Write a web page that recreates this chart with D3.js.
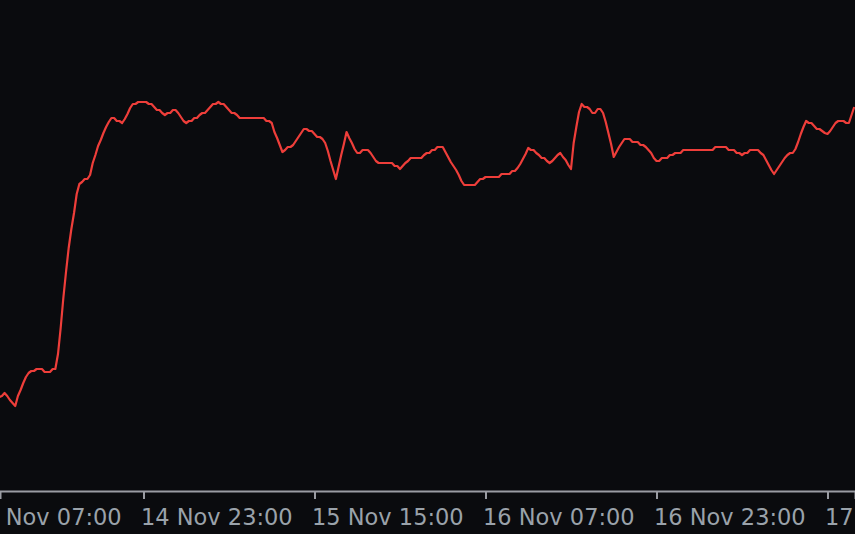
<!DOCTYPE html>
<html>
<head>
<meta charset="utf-8">
<script src="https://cdn.jsdelivr.net/npm/d3@7"></script>
<style>
  html, body { margin: 0; padding: 0; background: #0a0b0e; }
  svg { display: block; }
</style>
</head>
<body>
<svg id="chart" width="855" height="534"></svg>
<script>
// ---- Data (15-minute closes, 14 Nov 09:30 -> 17 Nov 17:30) ----
const seriesStart = "2023-11-14T09:30:00Z";
const stepMinutes = 15;
const values = [
  103,104,107,104,100,97,94,104,110,117,123,127,129,129,131,131,131,128,128,128,
  131,131,146,172,202,228,252,271,287,306,316,318,321,321,325,337,345,354,360,367,
  373,378,382,382,379,379,377,381,386,392,396,396,398,398,
  398,398,396,396,393,390,390,387,385,387,387,390,390,387,383,379,377,379,379,382,
  382,385,387,387,390,393,396,396,398,396,396,393,390,387,387,385,
  382,382,382,382,382,382,382,382,382,382,
  379,379,377,368,362,355,348,350,353,353,355,359,363,367,371,371,369,369,366,363,
  363,361,357,349,339,330,321,333,345,356,368,362,357,351,347,347,350,350,350,347,
  343,339,337,337,337,337,337,337,334,334,331,334,337,339,342,342,342,342,342,345,
  347,347,350,350,353,353,353,348,343,338,334,330,325,319,315,315,315,315,315,318,
  321,321,323,323,323,323,323,323,326,326,326,326,329,329,332,336,341,346,352,350,
  350,347,345,342,342,339,337,339,342,345,347,343,340,335,331,357,373,388,396,393,
  393,391,387,387,391,391,387,378,367,356,343,348,353,357,361,361,361,358,358,358,
  355,355,353,350,347,342,339,339,342,342,342,345,345,347,347,347,
  350,350,350,350,350,350,350,350,350,350,350,350,
  353,353,353,353,353,350,350,350,347,347,345,347,347,350,350,350,350,
  347,345,340,335,330,326,330,334,338,342,345,347,347,351,358,366,373,379,377,377,
  374,371,371,369,367,366,369,373,377,379,379,379,377,377,385,393
];
const tickLabels = ["14 Nov 07:00","14 Nov 23:00","15 Nov 15:00","16 Nov 07:00","16 Nov 23:00","17 Nov 15:00"];
const tickTimes = ["2023-11-14T07:00:00Z","2023-11-14T23:00:00Z","2023-11-15T15:00:00Z","2023-11-16T07:00:00Z","2023-11-16T23:00:00Z","2023-11-17T15:00:00Z"];
const viewStart = "2023-11-14T09:34:25Z";
const viewEnd = "2023-11-17T17:34:25Z";

// ---- Build ----
const W = 855, H = 534, axisY = 491;
const start = new Date(seriesStart);
const data = values.map((v, i) => ({ t: d3.utcMinute.offset(start, i * stepMinutes), v }));

const svg = d3.select("#chart");
svg.append("rect").attr("width", W).attr("height", H).attr("fill", "#0a0b0e");

const x = d3.scaleUtc().domain([new Date(viewStart), new Date(viewEnd)]).range([0, W]);
const y = d3.scaleLinear().domain([0, 500]).range([500, 0]);

const line = d3.line().x(d => x(d.t)).y(d => y(d.v));

svg.append("path")
  .datum(data)
  .attr("d", line)
  .attr("fill", "none")
  .attr("stroke", "#ee3e3a")
  .attr("stroke-width", 2.2)
  .attr("stroke-linejoin", "round");

const labelMap = new Map(tickTimes.map((t, i) => [+new Date(t), tickLabels[i]]));
const axis = d3.axisBottom(x)
  .tickValues(tickTimes.map(t => new Date(t)))
  .tickSizeOuter(0)
  .tickSize(8)
  .tickFormat(d => labelMap.get(+d));

const g = svg.append("g").attr("transform", `translate(0,${axisY})`).call(axis);
g.select(".domain").attr("stroke", "#9a9ca3").attr("stroke-width", 2);
g.selectAll(".tick line").attr("stroke", "#9a9ca3").attr("stroke-width", 2);
g.selectAll(".tick text")
  .attr("text-anchor", "start")
  .attr("x", -3)
  .attr("y", 34)
  .attr("dy", 0)
  .attr("fill", "#9aa2aa")
  .style("font-family", "'DejaVu Sans', sans-serif")
  .style("font-size", "22.5px");
</script>
</body>
</html>
